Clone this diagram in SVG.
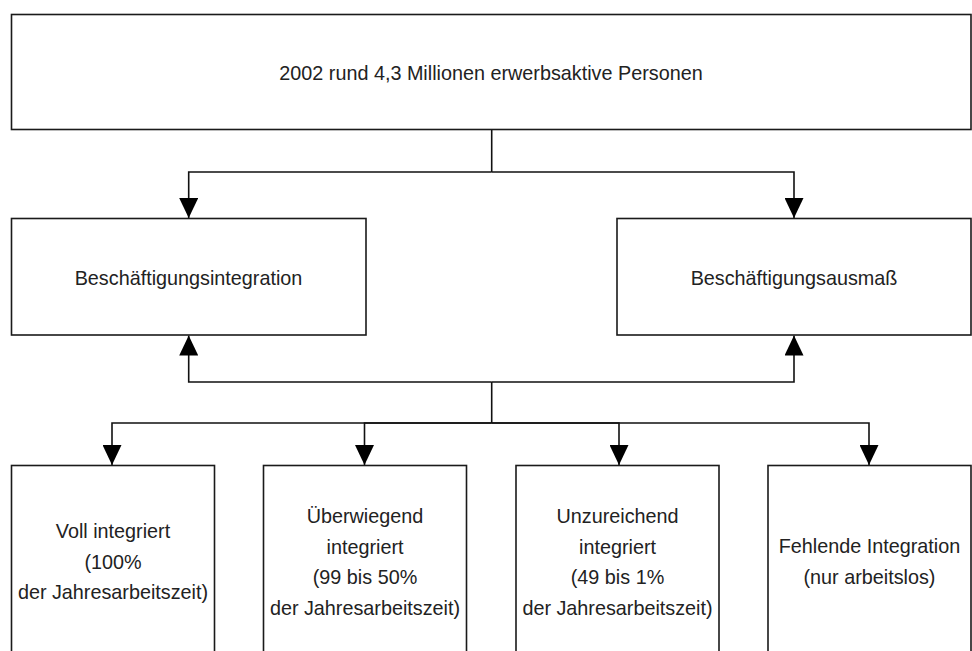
<svg xmlns="http://www.w3.org/2000/svg" width="972" height="651" viewBox="0 0 972 651">
<defs>
<style>
.box{fill:#fff;stroke:#1a1a1a;stroke-width:1.6}
.t{font-family:"Liberation Sans",Arial,sans-serif;font-size:19.8px;fill:#222;text-anchor:middle}
.ln{fill:none;stroke:#111;stroke-width:1.6}
</style>
<marker id="ah" viewBox="0 0 20 19" refX="20" refY="9.5" markerWidth="20" markerHeight="19" markerUnits="userSpaceOnUse" orient="auto">
<path d="M0,0 L20,9.5 L0,19 Z" fill="#000"/>
</marker>
</defs>
<rect width="972" height="651" fill="#fff"/>
<g id="connectors">
<path class="ln" d="M491.7,130 V172"/>
<path class="ln" d="M491.7,172 H188.7 V218" marker-end="url(#ah)"/>
<path class="ln" d="M491.7,172 H794 V218" marker-end="url(#ah)"/>
<path class="ln" d="M491.7,382 H188.7 V335.5" marker-end="url(#ah)"/>
<path class="ln" d="M491.7,382 H794 V335.5" marker-end="url(#ah)"/>
<path class="ln" d="M491.7,382 V423"/>
<path class="ln" d="M491.7,423 H112 V465" marker-end="url(#ah)"/>
<path class="ln" d="M491.7,423 H364.5 V465" marker-end="url(#ah)"/>
<path class="ln" d="M491.7,423 H619 V465" marker-end="url(#ah)"/>
<path class="ln" d="M491.7,423 H869 V465" marker-end="url(#ah)"/>
</g>
<g id="top">
<rect class="box" x="11.5" y="14.5" width="959.5" height="115"/>
<text class="t" x="491" y="80">2002 rund 4,3 Millionen erwerbsaktive Personen</text>
</g>
<g id="integration">
<rect class="box" x="11.5" y="218.5" width="354.5" height="116.5"/>
<text class="t" x="188.5" y="285">Beschäftigungsintegration</text>
</g>
<g id="ausmass">
<rect class="box" x="617" y="218.5" width="354" height="116.5"/>
<text class="t" x="794" y="285">Beschäftigungsausmaß</text>
</g>
<g id="voll">
<rect class="box" x="11.5" y="465.5" width="203" height="200"/>
<text class="t" x="113" y="538">Voll integriert</text>
<text class="t" x="113" y="568.5">(100%</text>
<text class="t" x="113" y="599">der Jahresarbeitszeit)</text>
</g>
<g id="ueberwiegend">
<rect class="box" x="263.5" y="465.5" width="203" height="200"/>
<text class="t" x="365" y="523">Überwiegend</text>
<text class="t" x="365" y="553.5">integriert</text>
<text class="t" x="365" y="584">(99 bis 50%</text>
<text class="t" x="365" y="614.5">der Jahresarbeitszeit)</text>
</g>
<g id="unzureichend">
<rect class="box" x="516" y="465.5" width="203" height="200"/>
<text class="t" x="617.5" y="523">Unzureichend</text>
<text class="t" x="617.5" y="553.5">integriert</text>
<text class="t" x="617.5" y="584">(49 bis 1%</text>
<text class="t" x="617.5" y="614.5">der Jahresarbeitszeit)</text>
</g>
<g id="fehlend">
<rect class="box" x="768" y="465.5" width="203" height="200"/>
<text class="t" x="869.5" y="553">Fehlende Integration</text>
<text class="t" x="869.5" y="583.5">(nur arbeitslos)</text>
</g>
</svg>
